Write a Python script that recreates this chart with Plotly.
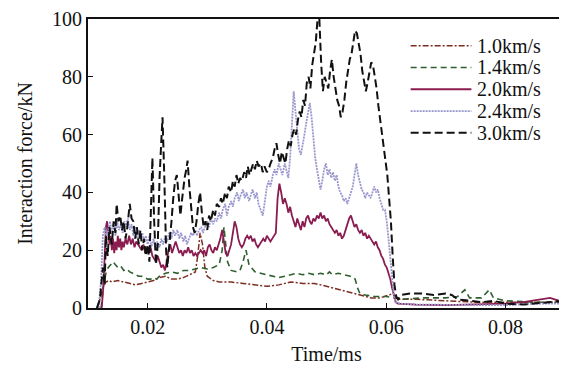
import plotly.graph_objects as go

# ---------------- data ----------------
labels = ["1.0km/s", "1.4km/s", "2.0km/s", "2.4km/s", "3.0km/s"]

t10 = [0.0115, 0.0120, 0.0125, 0.0130, 0.0135, 0.0140, 0.0150, 0.0160, 0.0170, 0.0180, 0.0190, 0.0200,
       0.0210, 0.0220, 0.0230, 0.0240, 0.0250, 0.0260, 0.0270, 0.0280, 0.0284, 0.0288, 0.0292, 0.0296,
       0.0300, 0.0310, 0.0320, 0.0340, 0.0360, 0.0380, 0.0400, 0.0420, 0.0440, 0.0460, 0.0480, 0.0500,
       0.0520, 0.0540, 0.0560, 0.0575, 0.0590, 0.0605, 0.0612, 0.0620, 0.0650, 0.0700, 0.0750, 0.0800,
       0.0850, 0.0900]
f10 = [0, 3, 7, 9, 9.5, 9, 9.5, 9, 8.5, 8, 8.5, 9,
       9.5, 10.5, 11, 10, 10, 10.5, 11.5, 12.5, 18, 26, 22, 14,
       11, 9.5, 9, 9, 8.5, 8, 7.5, 8, 9, 8.5, 8.5, 7.5,
       6.5, 5.5, 4.5, 3.5, 3.5, 4.5, 5, 3, 3, 2.5, 2, 2,
       2, 2]

t14 = [0.0122, 0.0126, 0.0130, 0.0134, 0.0138, 0.0142, 0.0146, 0.0150, 0.0155, 0.0160, 0.0165, 0.0170,
       0.0175, 0.0180, 0.0185, 0.0190, 0.0195, 0.0200, 0.0205, 0.0210, 0.0215, 0.0220, 0.0230, 0.0240,
       0.0250, 0.0260, 0.0270, 0.0280, 0.0290, 0.0300, 0.0310, 0.0320, 0.0325, 0.0328, 0.0331, 0.0334,
       0.0340, 0.0350, 0.0355, 0.0360, 0.0365, 0.0370, 0.0380, 0.0390, 0.0400, 0.0410, 0.0420, 0.0430,
       0.0440, 0.0450, 0.0460, 0.0470, 0.0480, 0.0490, 0.0500, 0.0505, 0.0510, 0.0520, 0.0530, 0.0540,
       0.0548, 0.0552, 0.0556, 0.0565, 0.0580, 0.0600, 0.0615, 0.0625, 0.0660, 0.0700, 0.0720, 0.0732,
       0.0740, 0.0760, 0.0773, 0.0780, 0.0800, 0.0850, 0.0900]
f14 = [0, 8, 12, 14, 15, 16, 15, 14, 14.5, 13, 13.5, 12.5,
       12, 11.5, 11, 11, 10.5, 10, 10, 10.5, 10, 11, 12, 12.5,
       12, 13, 13, 13.5, 14, 13.5, 14, 15, 20, 28, 22, 16,
       13, 12.5, 13, 16, 20, 15, 12.5, 12, 11.5, 11, 10.5, 11,
       11.5, 12, 11.5, 12, 11.5, 12, 11.5, 12.5, 11.5, 12, 11.5, 11,
       10, 7, 5, 4.5, 4, 4, 3.5, 3, 3.5, 3.5, 4, 6.3,
       3.5, 3.5, 6.3, 3.5, 2.5, 2, 2]

t20 = [0.0123, 0.0126, 0.0128, 0.0130, 0.0132, 0.0134, 0.0136, 0.0138, 0.0140, 0.0142, 0.0144, 0.0146,
       0.0148, 0.0150, 0.0152, 0.0154, 0.0156, 0.0158, 0.0160, 0.0163, 0.0166, 0.0169, 0.0172, 0.0175,
       0.0178, 0.0181, 0.0184, 0.0187, 0.0190, 0.0193, 0.0196, 0.0199, 0.0202, 0.0205, 0.0208, 0.0211,
       0.0214, 0.0217, 0.0220, 0.0223, 0.0226, 0.0229, 0.0232, 0.0235, 0.0238, 0.0241, 0.0244, 0.0247,
       0.0250, 0.0253, 0.0256, 0.0259, 0.0262, 0.0265, 0.0268, 0.0271, 0.0274, 0.0277, 0.0280, 0.0283,
       0.0286, 0.0289, 0.0292, 0.0295, 0.0298, 0.0301, 0.0304, 0.0307, 0.0310, 0.0313, 0.0316, 0.0319,
       0.0322, 0.0325, 0.0328, 0.0331, 0.0334, 0.0337, 0.0340, 0.0343, 0.0346, 0.0349, 0.0352, 0.0355,
       0.0358, 0.0361, 0.0364, 0.0367, 0.0370, 0.0373, 0.0376, 0.0379, 0.0382, 0.0385, 0.0388, 0.0391,
       0.0394, 0.0397, 0.0400, 0.0403, 0.0406, 0.0409, 0.0412, 0.0415, 0.0418, 0.0421, 0.0424, 0.0427,
       0.0430, 0.0433, 0.0436, 0.0439, 0.0442, 0.0445, 0.0448, 0.0451, 0.0454, 0.0457, 0.0460, 0.0463,
       0.0466, 0.0469, 0.0472, 0.0475, 0.0478, 0.0481, 0.0484, 0.0487, 0.0490, 0.0493, 0.0496, 0.0499,
       0.0502, 0.0505, 0.0508, 0.0511, 0.0514, 0.0517, 0.0520, 0.0523, 0.0526, 0.0529, 0.0532, 0.0535,
       0.0538, 0.0541, 0.0544, 0.0547, 0.0550, 0.0553, 0.0556, 0.0559, 0.0562, 0.0565, 0.0568, 0.0571,
       0.0574, 0.0577, 0.0580, 0.0583, 0.0586, 0.0589, 0.0592, 0.0595, 0.0598, 0.0601, 0.0604, 0.0607,
       0.0610, 0.0613, 0.0616, 0.0620, 0.0650, 0.0700, 0.0750, 0.0800, 0.0830, 0.0860, 0.0875, 0.0890,
       0.0900]
f20 = [0, 8, 18, 28, 30, 26, 22, 25, 20, 24, 19, 23,
       20, 25, 21, 24, 20, 23, 21, 24, 22, 25, 22, 24,
       21, 23, 22, 21, 20, 22, 19, 20, 19, 21, 18, 17,
       16, 18, 16, 14, 15, 13, 16, 20, 22, 19, 21, 23,
       21, 19, 20, 18, 20, 19, 21, 19, 20, 18, 19, 18,
       19, 20, 19, 20, 18, 21, 22, 20, 19, 21, 20, 22,
       24, 27, 22, 19, 18, 20, 22, 26, 30, 28, 24, 22,
       21, 22, 24, 25, 24, 25, 23, 24, 22, 21, 22, 23,
       24, 23, 25, 24, 23, 24, 25, 26, 38, 43, 40, 36,
       38, 36, 33, 35, 32, 30, 28, 31, 29, 27, 30, 28,
       31, 32, 30, 29, 31, 30, 32, 31, 33, 31, 32, 30,
       31, 29, 28, 27, 26, 27, 25, 26, 24, 25, 27, 29,
       31, 32, 30, 28, 29, 27, 26, 27, 25, 26, 24, 25,
       24, 23, 22, 23, 21, 20, 18, 17, 15, 14, 12, 10,
       7, 4, 2, 1.5, 1.2, 1, 1.2, 1.5, 2, 3, 3.5, 2.5,
       2.5]

t24 = [0.0118, 0.0122, 0.0125, 0.0128, 0.0131, 0.0134, 0.0137, 0.0140, 0.0143, 0.0146, 0.0149, 0.0152,
       0.0155, 0.0158, 0.0161, 0.0164, 0.0167, 0.0170, 0.0173, 0.0176, 0.0179, 0.0182, 0.0185, 0.0188,
       0.0191, 0.0194, 0.0197, 0.0200, 0.0203, 0.0206, 0.0210, 0.0213, 0.0216, 0.0220, 0.0223, 0.0226,
       0.0230, 0.0233, 0.0236, 0.0240, 0.0243, 0.0246, 0.0250, 0.0253, 0.0256, 0.0260, 0.0263, 0.0266,
       0.0270, 0.0273, 0.0276, 0.0280, 0.0283, 0.0286, 0.0290, 0.0293, 0.0296, 0.0300, 0.0303, 0.0306,
       0.0310, 0.0313, 0.0316, 0.0320, 0.0323, 0.0326, 0.0330, 0.0333, 0.0336, 0.0340, 0.0343, 0.0346,
       0.0350, 0.0353, 0.0356, 0.0360, 0.0363, 0.0366, 0.0370, 0.0373, 0.0376, 0.0380, 0.0383, 0.0386,
       0.0390, 0.0393, 0.0396, 0.0400, 0.0403, 0.0406, 0.0410, 0.0413, 0.0416, 0.0420, 0.0423, 0.0426,
       0.0430, 0.0433, 0.0436, 0.0439, 0.0442, 0.0445, 0.0448, 0.0451, 0.0454, 0.0457, 0.0460, 0.0463,
       0.0466, 0.0469, 0.0472, 0.0475, 0.0478, 0.0481, 0.0484, 0.0487, 0.0490, 0.0493, 0.0496, 0.0499,
       0.0502, 0.0505, 0.0508, 0.0511, 0.0514, 0.0517, 0.0520, 0.0523, 0.0526, 0.0529, 0.0532, 0.0535,
       0.0538, 0.0541, 0.0544, 0.0547, 0.0550, 0.0553, 0.0556, 0.0559, 0.0562, 0.0565, 0.0568, 0.0571,
       0.0574, 0.0577, 0.0580, 0.0583, 0.0586, 0.0589, 0.0592, 0.0595, 0.0598, 0.0601, 0.0604, 0.0607,
       0.0610, 0.0613, 0.0616, 0.0625, 0.0650, 0.0700, 0.0750, 0.0800, 0.0850, 0.0900]
f24 = [0, 10, 25, 28, 24, 27, 30, 26, 29, 25, 30, 27,
       29, 26, 30, 28, 31, 27, 29, 25, 28, 24, 27, 24,
       26, 23, 25, 22, 25, 21, 24, 20, 23, 21, 24, 22,
       25, 23, 26, 24, 27, 25, 27, 24, 26, 23, 25, 22,
       24, 26, 25, 27, 25, 27, 28, 26, 28, 30, 28, 31,
       29, 31, 30, 33, 31, 34, 36, 32, 35, 37, 35, 38,
       40, 37, 39, 41, 38, 40, 37, 39, 41, 38, 40, 36,
       34, 32, 36, 42, 44, 42, 46, 48, 46, 50, 48, 46,
       50, 47, 45, 52, 62, 75, 68, 60, 55, 53, 56, 60,
       64, 68, 71, 66, 58, 52, 48, 44, 41, 44, 48, 50,
       46, 48, 45, 47, 44, 46, 42, 40, 39, 37, 38, 36,
       38, 40, 42, 46, 50, 46, 43, 41, 40, 38, 40, 39,
       38, 40, 42, 40, 41, 38, 36, 34, 34, 30, 24, 18,
       10, 4, 2, 1.5, 1.2, 1, 1, 1, 1.5, 1.5]

t30 = [0.0115, 0.0120, 0.0125, 0.0128, 0.0130, 0.0133, 0.0136, 0.0140, 0.0143, 0.0146, 0.0148, 0.0151,
       0.0154, 0.0157, 0.0160, 0.0163, 0.0166, 0.0170, 0.0173, 0.0176, 0.0179, 0.0182, 0.0185, 0.0188,
       0.0191, 0.0194, 0.0197, 0.0200, 0.0203, 0.0206, 0.0208, 0.0211, 0.0214, 0.0217, 0.0220, 0.0223,
       0.0225, 0.0228, 0.0231, 0.0233, 0.0236, 0.0240, 0.0243, 0.0246, 0.0249, 0.0252, 0.0255, 0.0258,
       0.0262, 0.0265, 0.0267, 0.0270, 0.0273, 0.0276, 0.0279, 0.0282, 0.0285, 0.0288, 0.0291, 0.0294,
       0.0297, 0.0300, 0.0303, 0.0306, 0.0310, 0.0313, 0.0316, 0.0320, 0.0323, 0.0326, 0.0330, 0.0333,
       0.0336, 0.0340, 0.0343, 0.0346, 0.0349, 0.0352, 0.0355, 0.0358, 0.0362, 0.0365, 0.0368, 0.0371,
       0.0374, 0.0377, 0.0380, 0.0383, 0.0386, 0.0390, 0.0393, 0.0396, 0.0400, 0.0403, 0.0406, 0.0410,
       0.0413, 0.0416, 0.0419, 0.0422, 0.0425, 0.0428, 0.0431, 0.0434, 0.0437, 0.0440, 0.0443, 0.0446,
       0.0449, 0.0452, 0.0455, 0.0458, 0.0461, 0.0464, 0.0467, 0.0470, 0.0473, 0.0476, 0.0479, 0.0482,
       0.0485, 0.0488, 0.0491, 0.0494, 0.0497, 0.0500, 0.0503, 0.0506, 0.0509, 0.0512, 0.0515, 0.0518,
       0.0521, 0.0524, 0.0527, 0.0530, 0.0533, 0.0536, 0.0539, 0.0542, 0.0545, 0.0548, 0.0551, 0.0554,
       0.0557, 0.0560, 0.0563, 0.0566, 0.0569, 0.0572, 0.0575, 0.0578, 0.0581, 0.0584, 0.0587, 0.0590,
       0.0593, 0.0596, 0.0599, 0.0602, 0.0605, 0.0608, 0.0611, 0.0614, 0.0617, 0.0620, 0.0625, 0.0640,
       0.0660, 0.0680, 0.0700, 0.0710, 0.0720, 0.0740, 0.0760, 0.0780, 0.0800, 0.0830, 0.0850, 0.0870,
       0.0900]
f30 = [0, 3, 14, 8, 25, 18, 28, 22, 30, 26, 36, 30,
       32, 27, 30, 24, 28, 36, 31, 30, 24, 28, 22, 27,
       20, 24, 18, 22, 16, 40, 52, 30, 15, 22, 45, 58,
       66, 45, 20, 14, 20, 30, 38, 44, 46, 40, 32, 38,
       45, 48, 51, 42, 35, 28, 26, 30, 36, 40, 33, 28,
       30, 27, 32, 30, 34, 32, 36, 35, 38, 36, 40, 38,
       42, 40, 44, 42, 46, 43, 45, 44, 47, 45, 49, 46,
       48, 50, 48, 51, 49, 50, 47, 49, 47, 48, 50, 52,
       55, 57, 53, 50, 54, 52, 50, 55, 58, 56, 60, 62,
       60, 65, 68, 66, 72, 70, 78, 80, 76, 84, 88, 92,
       100, 100, 85, 75, 80, 78, 76, 82, 86, 80, 76, 72,
       70, 66, 68, 72, 78, 82, 86, 88, 92, 96, 95, 92,
       88, 82, 78, 75, 78, 82, 85, 84, 80, 76, 70, 65,
       60, 56, 50, 46, 38, 30, 18, 8, 4, 3, 4.5, 5,
       5, 4.5, 5, 4.5, 3, 2.5, 2, 2.5, 1.5, 1.2, 1.5, 2,
       2.5]

x_ticks = [0.02, 0.04, 0.06, 0.08]
x_tick_text = ["0.02", "0.04", "0.06", "0.08"]
y_ticks = [0, 20, 40, 60, 80, 100]

# ---------------- styling ----------------
colors = ["#7d2f22", "#2f5f2f", "#8b1c50", "#9896cc", "#111111"]
dashes = ["6px,2px,2px,2px", "6px,4px", "solid", "2px,1px", "8px,4px"]
widths = [1.5, 1.6, 1.8, 1.8, 2.0]
series = [(t10, f10), (t14, f14), (t20, f20), (t24, f24), (t30, f30)]

FONT = "Liberation Serif, Times New Roman, serif"

# page body has an 8px margin: compensate so the plot area lands at x 88..567, y 16..300
W, H = 559, 360
ML, MR, MT, MB = 80, 0, 8, 60
PW, PH = W - ML - MR, H - MT - MB

fig = go.Figure()
for (tt, ff), lab, c, d, w in zip(series, labels, colors, dashes, widths):
    fig.add_trace(go.Scatter(x=tt, y=ff, mode="lines", name=lab,
                             line=dict(color=c, dash=d, width=w),
                             showlegend=False))

# custom legend (long line samples like the reference); positions in screen px
leg_y_px = [35, 57, 79, 101, 123]
def px_x(p):
    return (p - 88) / PW
def px_y(p):
    return (300 - p) / PH

shapes = []
annotations = []
for i, lab in enumerate(labels):
    yp = px_y(leg_y_px[i])
    shapes.append(dict(type="line", xref="paper", yref="paper",
                       x0=px_x(412), x1=px_x(473), y0=yp, y1=yp,
                       line=dict(color=colors[i], dash=dashes[i], width=widths[i])))
    annotations.append(dict(xref="paper", yref="paper", x=px_x(477), y=yp,
                            text=lab, showarrow=False, xanchor="left", yanchor="middle",
                            font=dict(family=FONT, size=20, color="#111111")))

fig.update_layout(
    width=W, height=H,
    margin=dict(l=ML, r=MR, t=MT, b=MB),
    paper_bgcolor="white", plot_bgcolor="white",
    font=dict(family=FONT, size=20, color="#111111"),
    shapes=shapes, annotations=annotations,
    xaxis=dict(range=[0.01, 0.09], tickvals=x_ticks, ticktext=x_tick_text,
               ticks="inside", ticklen=5, tickwidth=1.2, tickcolor="#111111",
               showline=True, linecolor="#111111", linewidth=1.8, mirror=True,
               showgrid=False, zeroline=False, ticklabeloverflow="allow",
               title=dict(text="Time/ms", standoff=10,
                          font=dict(family=FONT, size=20)),
               tickfont=dict(family=FONT, size=20)),
    yaxis=dict(range=[0, 100], tickvals=y_ticks,
               ticks="inside", ticklen=5, tickwidth=1.2, tickcolor="#111111",
               showline=True, linecolor="#111111", linewidth=1.8, mirror=True,
               showgrid=False, zeroline=False, ticklabeloverflow="allow",
               title=dict(text="Interaction force/kN", standoff=14,
                          font=dict(family=FONT, size=20)),
               tickfont=dict(family=FONT, size=20)),
)

fig.write_html("out.html")
